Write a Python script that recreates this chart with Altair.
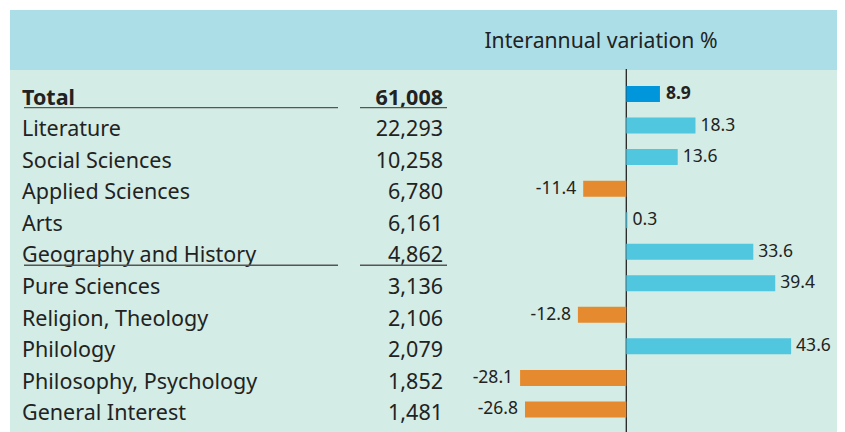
import altair as alt
import pandas as pd

categories = ["Total", "Literature", "Social Sciences", "Applied Sciences", "Arts",
              "Geography and History", "Pure Sciences", "Religion, Theology",
              "Philology", "Philosophy, Psychology", "General Interest"]
counts = [61008, 22293, 10258, 6780, 6161, 4862, 3136, 2106, 2079, 1852, 1481]
variation = [8.9, 18.3, 13.6, -11.4, 0.3, 33.6, 39.4, -12.8, 43.6, -28.1, -26.8]
underlined_rows = ["Total", "Geography and History"]
header_title = "Interannual variation %"

rows = []
for i, (c, n, v) in enumerate(zip(categories, counts, variation)):
    rows.append({
        "row": i,
        "category": c,
        "count_label": f"{n:,}",
        "var": v,
        "var_label": f"{v:.1f}",
        "zero": 0,
        "kind": "total" if i == 0 else ("pos" if v >= 0 else "neg"),
        "is_total": i == 0,
        "underline": c in underlined_rows,
    })
df = pd.DataFrame(rows)

W, H = 829, 424
FONT = "Noto Sans"
TXT = "#222222"
X0, PXU = 618.3, 3.78
Y0, ROW = 83.0, 32.3

xscale = alt.Scale(domain=[-X0 / PXU, (W - X0) / PXU], nice=False, zero=False)
yscale = alt.Scale(domain=[-Y0 / ROW, (H - Y0) / ROW], nice=False, zero=False, reverse=True)

X = lambda f: alt.X(f, scale=xscale, axis=None)
Y = alt.Y("row:Q", scale=yscale, axis=None)

one = alt.Chart(pd.DataFrame({"zero": [0]}))

header = one.mark_rect(color="#ACDEE8").encode(
    x=alt.value(2), x2=alt.value(W), y=alt.value(2), y2=alt.value(62))
body = one.mark_rect(color="#D3ECE5").encode(
    x=alt.value(2), x2=alt.value(W), y=alt.value(62), y2=alt.value(H))
title = one.mark_text(font=FONT, fontSize=21.2, color=TXT, align="center",
                      baseline="middle").encode(
    x=alt.value(593), y=alt.value(33.5), text=alt.value(header_title))

base = alt.Chart(df)

zero_line = one.mark_rule(color="#222222", strokeWidth=1.3).encode(
    x=X("zero:Q"), y=alt.value(61), y2=alt.value(H))

bars = base.mark_bar(size=16).encode(
    x=X("var:Q"), x2="zero:Q", y=Y,
    color=alt.Color("kind:N", scale=alt.Scale(domain=["total", "pos", "neg"],
                                              range=["#0096DB", "#50C6DF", "#E68A2F"]),
                    legend=None))

LBL = 17.5
pos_labels = base.transform_filter("datum.var >= 0 && !datum.is_total").mark_text(
    font=FONT, fontSize=LBL, color=TXT, align="left", baseline="middle", dx=5).encode(
    x=X("var:Q"), y=Y, text="var_label:N")
tot_label = base.transform_filter("datum.is_total").mark_text(
    font=FONT, fontSize=LBL, fontWeight="bold", color=TXT, align="left",
    baseline="middle", dx=6).encode(
    x=X("var:Q"), y=Y, text="var_label:N")
neg_labels = base.transform_filter("datum.var < 0").mark_text(
    font=FONT, fontSize=LBL, color=TXT, align="right", baseline="middle", dx=-7).encode(
    x=X("var:Q"), y=Y, text="var_label:N")

TF = 21.5
DY = 10.7
cat_text = base.transform_filter("!datum.is_total").mark_text(
    font=FONT, fontSize=TF, color=TXT, align="left", baseline="alphabetic", dy=DY).encode(
    x=alt.value(14), y=Y, text="category:N")
cat_total = base.transform_filter("datum.is_total").mark_text(
    font=FONT, fontSize=TF, fontWeight="bold", color=TXT, align="left",
    baseline="alphabetic", dy=DY).encode(
    x=alt.value(14), y=Y, text="category:N")
num_text = base.transform_filter("!datum.is_total").mark_text(
    font=FONT, fontSize=TF, color=TXT, align="right", baseline="alphabetic", dy=DY).encode(
    x=alt.value(435), y=Y, text="count_label:N")
num_total = base.transform_filter("datum.is_total").mark_text(
    font=FONT, fontSize=TF, fontWeight="bold", color=TXT, align="right",
    baseline="alphabetic", dy=DY).encode(
    x=alt.value(435), y=Y, text="count_label:N")

ul_label = base.transform_filter("datum.underline").mark_rule(
    color="#555555", strokeWidth=1.3, yOffset=13.5).encode(
    x=alt.value(16), x2=alt.value(330), y=Y)
ul_num = base.transform_filter("datum.underline").mark_rule(
    color="#555555", strokeWidth=1.3, yOffset=13.5).encode(
    x=alt.value(352), x2=alt.value(439), y=Y)

chart = alt.layer(
    header, body, title, zero_line, bars, pos_labels, tot_label, neg_labels,
    cat_text, cat_total, num_text, num_total, ul_label, ul_num
).properties(
    width=W, height=H, padding=0, autosize="none", background="white"
).configure_view(strokeWidth=0)

chart.save("out.html", embed_options={"renderer": "svg", "actions": False})
